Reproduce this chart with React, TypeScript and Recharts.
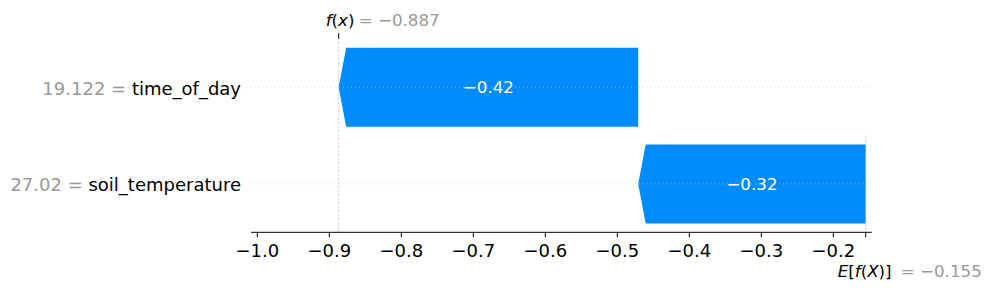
import React from "react";
import { Bar, ComposedChart, ReferenceLine, XAxis, YAxis } from "recharts";

const features = ["time_of_day", "soil_temperature"];
const featureValues = ["19.122", "27.02"];
const shapValues = [-0.416, -0.316];
const baseValue = -0.155;
const fxValue = -0.887;
const xTicks = [-1.0, -0.9, -0.8, -0.7, -0.6, -0.5, -0.4, -0.3, -0.2];

const blue = "#008bfb";
const gray = "#999999";
const font = "'DejaVu Sans', sans-serif";

const fmt = (v: number, digits: number) => (v < 0 ? "\u2212" : "") + Math.abs(v).toFixed(digits);

// waterfall: bottom row starts at the base value, each bar ends where the next one starts
const rows = (() => {
  const out: any[] = [];
  let end = baseValue;
  for (let i = features.length - 1; i >= 0; i--) {
    const start = end;
    end = start + shapValues[i];
    out.unshift({
      name: features[i],
      featureValue: featureValues[i],
      shap: shapValues[i],
      range: [Math.min(start, end), Math.max(start, end)]
    });
  }
  return out;
})();

function Arrow(props: any) {
  const { x, y, width, height, payload } = props;
  const left = Math.min(x, x + width);
  const right = Math.max(x, x + width);
  const cy = y + height / 2;
  const head = Math.min(7.5, right - left);
  const pts =
    payload.shap < 0
      ? [[right, y], [left + head, y], [left, cy], [left + head, y + height], [right, y + height]]
      : [[left, y], [right - head, y], [right, cy], [right - head, y + height], [left, y + height]];
  return (
    <g>
      <polygon points={pts.map((p) => p.join(",")).join(" ")} fill={blue} />
      <text x={(left + right) / 2} y={cy + 5.5} textAnchor="middle" fill="#fff" fontSize={16.7} fontFamily={font}>
        {fmt(payload.shap, 2)}
      </text>
    </g>
  );
}

function XTick({ x, y, payload }: any) {
  return (
    <text x={x} y={y} dy={17.2} textAnchor="middle" fontSize={18} fontFamily={font} fill="#000">
      {fmt(payload.value, 1)}
    </text>
  );
}

function YTick({ x, y, payload }: any) {
  const row = rows.find((r) => r.name === payload.value);
  return (
    <text x={x} y={y} dy={7.5} textAnchor="end" fontSize={18} fontFamily={font} style={{ whiteSpace: "pre" }}>
      <tspan fill={gray}>{row.featureValue + " = "}</tspan>
      <tspan fill="#000">{row.name}</tspan>
    </text>
  );
}

// math-style label: letters italic, brackets upright
const it = (s: string) => <tspan fontStyle="italic">{s}</tspan>;

function FxLabel({ viewBox }: any) {
  const { x, y } = viewBox;
  return (
    <g>
      <line x1={x} x2={x} y1={y - 5.5} y2={y} stroke="#000" strokeWidth={1} />
      <text y={y - 12.7} fontSize={16.7} fontFamily={font}>
        <tspan x={x - 13} fill="#000">
          {it("f")}({it("x")})
        </tspan>
        <tspan x={x + 20} fill={gray}>{"= " + fmt(fxValue, 3)}</tspan>
      </text>
    </g>
  );
}

function BaseLabel({ viewBox }: any) {
  const { x, y, height } = viewBox;
  const bottom = y + height;
  return (
    <g>
      <line x1={x} x2={x} y1={y + height / 2} y2={bottom} stroke="#bbbbbb" strokeWidth={0.7} strokeDasharray="2.5 1.5" />
      <line x1={x} x2={x} y1={bottom} y2={bottom + 5} stroke="#000" strokeWidth={1} />
      <text y={bottom + 44.2} fontSize={16.7} fontFamily={font}>
        <tspan x={x - 28} fill="#000">
          {it("E")}[{it("f")}({it("X")})]
        </tspan>
        <tspan x={x + 35} fill={gray}>{"= " + fmt(baseValue, 3)}</tspan>
      </text>
    </g>
  );
}

export default function App() {
  return (
    <div style={{ position: "absolute", left: 0, top: 0, width: 988, height: 292, background: "#fff" }}>
      <ComposedChart
        width={988}
        height={292}
        data={rows}
        layout="vertical"
        margin={{ top: 38.7, right: 116.3, bottom: 0, left: 0 }}
      >
        <XAxis
          type="number"
          domain={[-1.00875, -0.1467]}
          allowDataOverflow
          ticks={xTicks}
          interval={0}
          height={59.7}
          tickSize={5}
          tickMargin={2}
          axisLine={{ stroke: "#000", strokeWidth: 1 }}
          tickLine={{ stroke: "#000", strokeWidth: 1 }}
          tick={<XTick />}
        />
        <YAxis
          type="category"
          dataKey="name"
          width={251}
          axisLine={false}
          tickLine={false}
          tickSize={0}
          tickMargin={10}
          tick={<YTick />}
        />
        {features.map((f) => (
          <ReferenceLine key={f} y={f} stroke="#cccccc" strokeWidth={0.7} strokeDasharray="1 3" />
        ))}
        <ReferenceLine x={fxValue} stroke="#bbbbbb" strokeWidth={0.7} strokeDasharray="2.5 1.5" label={<FxLabel />} />
        <ReferenceLine x={baseValue} stroke="none" label={<BaseLabel />} />
        <Bar dataKey="range" barSize={79} isAnimationActive={false} shape={(p: any) => <Arrow {...p} />} />
      </ComposedChart>
    </div>
  );
}
